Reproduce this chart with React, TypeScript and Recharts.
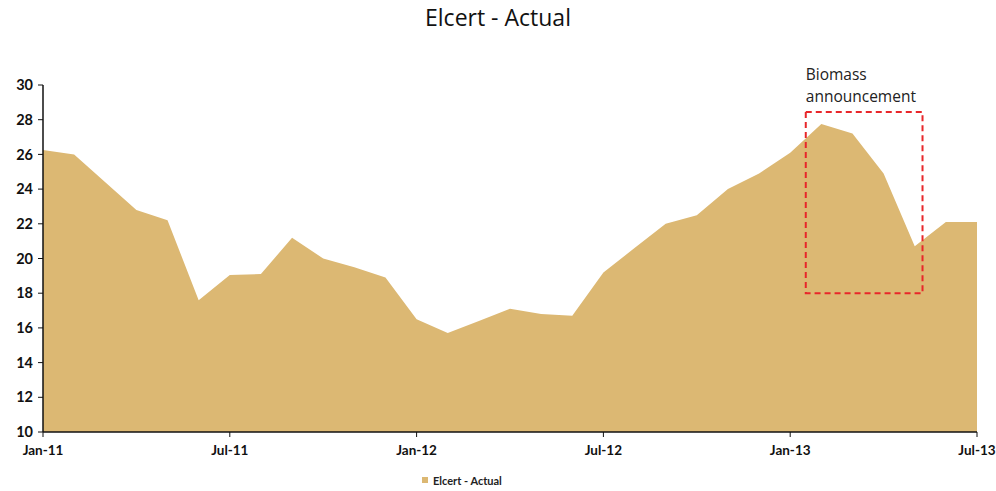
import React from "react";
import {
  AreaChart,
  Area,
  XAxis,
  YAxis,
  Legend,
  ReferenceArea,
  Label,
} from "recharts";

// Monthly Elcert prices, Jan-11 through Jul-13
const months: string[] = [
  "Jan-11", "Feb-11", "Mar-11", "Apr-11", "May-11", "Jun-11",
  "Jul-11", "Aug-11", "Sep-11", "Oct-11", "Nov-11", "Dec-11",
  "Jan-12", "Feb-12", "Mar-12", "Apr-12", "May-12", "Jun-12",
  "Jul-12", "Aug-12", "Sep-12", "Oct-12", "Nov-12", "Dec-12",
  "Jan-13", "Feb-13", "Mar-13", "Apr-13", "May-13", "Jun-13",
  "Jul-13",
];

const elcertActual: number[] = [
  26.25, 26.0, 24.4, 22.8, 22.2, 17.6,
  19.05, 19.1, 21.2, 20.0, 19.5, 18.9,
  16.5, 15.7, 16.4, 17.1, 16.8, 16.7,
  19.2, 20.6, 22.0, 22.5, 24.0, 24.9,
  26.1, 27.75, 27.2, 24.9, 20.7, 22.1,
  22.1,
];

// Tick positions (month index) and their labels
const xTickIndex: number[] = [0, 6, 12, 18, 24, 30];
const yTicks: number[] = [10, 12, 14, 16, 18, 20, 22, 24, 26, 28, 30];

// Highlighted window around the biomass announcement
const highlightX: [number, number] = [24.5, 28.25];
const highlightY: [number, number] = [18, 28.45];
const highlightLabel: string[] = ["Biomass", "announcement"];

const seriesName = "Elcert - Actual";
const fillColor = "#DCB873";
const axisFont = "Lato, 'Open Sans', sans-serif";

const data = months.map((m, i) => ({ idx: i, month: m, value: elcertActual[i] }));

const AnnotationText = (props: any) => {
  const { viewBox } = props;
  const x = viewBox.x;
  const y = viewBox.y;
  return (
    <text
      x={x}
      y={y - 32}
      fill="#222"
      fontFamily="'Open Sans', sans-serif"
      fontSize={15.5}
    >
      <tspan x={x} dy={0}>{highlightLabel[0]}</tspan>
      <tspan x={x} dy={22}>{highlightLabel[1]}</tspan>
    </text>
  );
};

const LegendContent = () => (
  <div
    style={{
      height: 22,
      display: "flex",
      justifyContent: "flex-start",
      alignItems: "center",
      paddingLeft: 419,
      fontFamily: axisFont,
      fontSize: 11,
      fontWeight: 700,
      color: "#222",
    }}
  >
    <span
      style={{
        width: 6,
        height: 6,
        background: fillColor,
        display: "inline-block",
        marginRight: 5,
      }}
    />
    <span>{seriesName}</span>
  </div>
);

export default function App() {
  return (
    <div style={{ position: "absolute", left: 0, top: 0, width: 996, height: 491, background: "#fff" }}>
      <div
        style={{
          position: "absolute",
          left: 0,
          top: 1,
          width: 996,
          textAlign: "center",
          fontFamily: "'Open Sans', sans-serif",
          fontSize: 23,
          color: "#111",
          zIndex: 1,
        }}
      >
        {seriesName}
      </div>
      <AreaChart
        width={996}
        height={491}
        data={data}
        margin={{ top: 85, right: 19, bottom: 0, left: 3 }}
      >
        <XAxis
          dataKey="idx"
          type="number"
          domain={[0, 30]}
          ticks={xTickIndex}
          tickFormatter={(v: number) => months[v]}
          tick={{ fill: "#111", fontFamily: axisFont, fontSize: 13.5, fontWeight: 700, dy: 6 }}
          axisLine={{ stroke: "#111", strokeWidth: 1.5 }}
          tickLine={{ stroke: "#111" }}
          tickSize={5}
          height={37}
          interval={0}
        />
        <YAxis
          type="number"
          domain={[10, 30]}
          ticks={yTicks}
          tick={{ fill: "#111", fontFamily: axisFont, fontSize: 14.5, fontWeight: 700 }}
          axisLine={{ stroke: "#111", strokeWidth: 1.5 }}
          tickLine={{ stroke: "#111" }}
          tickSize={5}
          tickMargin={5}
          width={40}
          interval={0}
        />
        <Legend verticalAlign="bottom" content={<LegendContent />} />
        <Area
          type="linear"
          dataKey="value"
          name={seriesName}
          stroke="none"
          fill={fillColor}
          fillOpacity={1}
          isAnimationActive={false}
          dot={false}
          activeDot={false}
        />
        <ReferenceArea
          x1={highlightX[0]}
          x2={highlightX[1]}
          y1={highlightY[0]}
          y2={highlightY[1]}
          fill="none"
          stroke="#E8262A"
          strokeWidth={2}
          strokeDasharray="6 4"
          ifOverflow="visible"
        >
          <Label content={<AnnotationText />} />
        </ReferenceArea>
      </AreaChart>
    </div>
  );
}
